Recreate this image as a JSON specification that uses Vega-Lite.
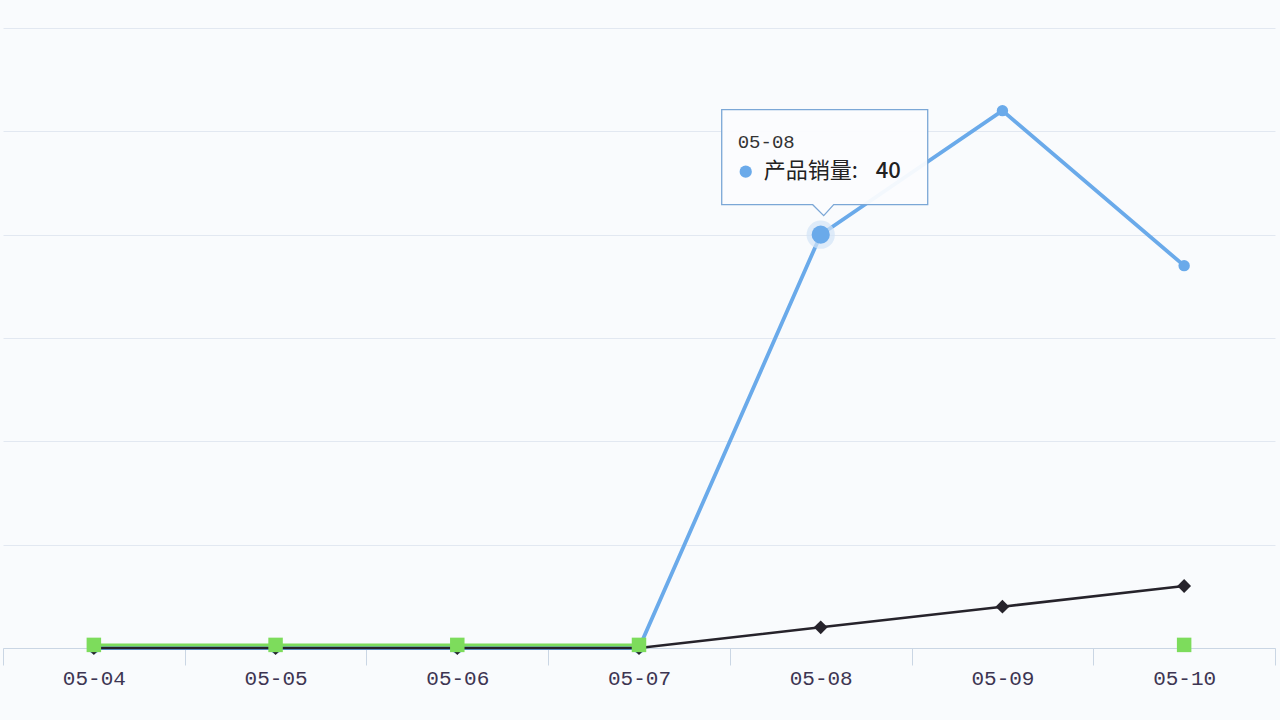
{
  "$schema": "https://vega.github.io/schema/vega-lite/v6.json",
  "width": 1272,
  "height": 620,
  "autosize": {"type": "none"},
  "padding": {"left": 3, "top": 28, "right": 5, "bottom": 72},
  "background": "#f9fbfd",
  "config": {"view": {"stroke": null}, "font": "DejaVu Sans"},
  "datasets": {
    "sales": [
      {"date": "05-04", "series": "产品销量", "value": 0},
      {"date": "05-05", "series": "产品销量", "value": 0},
      {"date": "05-06", "series": "产品销量", "value": 0},
      {"date": "05-07", "series": "产品销量", "value": 0},
      {"date": "05-08", "series": "产品销量", "value": 40},
      {"date": "05-09", "series": "产品销量", "value": 52},
      {"date": "05-10", "series": "产品销量", "value": 37},
      {"date": "05-04", "series": "系列二", "value": 0},
      {"date": "05-05", "series": "系列二", "value": 0},
      {"date": "05-06", "series": "系列二", "value": 0},
      {"date": "05-07", "series": "系列二", "value": 0},
      {"date": "05-08", "series": "系列二", "value": 2},
      {"date": "05-09", "series": "系列二", "value": 4},
      {"date": "05-10", "series": "系列二", "value": 6},
      {"date": "05-04", "series": "系列三", "value": 0.3},
      {"date": "05-05", "series": "系列三", "value": 0.3},
      {"date": "05-06", "series": "系列三", "value": 0.3},
      {"date": "05-07", "series": "系列三", "value": 0.3},
      {"date": "05-08", "series": "系列三", "value": null},
      {"date": "05-09", "series": "系列三", "value": null},
      {"date": "05-10", "series": "系列三", "value": 0.3}
    ],
    "tip": [{"date": "05-08", "value": 40, "title": "05-08", "label": "产品销量:", "num": "40"}]
  },
  "data": {"name": "sales"},
  "encoding": {
    "x": {
      "field": "date",
      "type": "ordinal",
      "bandPosition": 0.5,
      "scale": {"type": "band", "paddingInner": 0, "paddingOuter": 0},
      "axis": {
        "title": null,
        "labelAngle": 0,
        "domainColor": "#cad6e4",
        "tickColor": "#cad6e4",
        "tickSize": 17,
        "tickBand": "extent",
        "labelFont": "Liberation Mono",
        "labelFontSize": 21,
        "labelColor": "#3d3552",
        "labelPadding": 2,
        "grid": false
      }
    },
    "y": {
      "field": "value",
      "type": "quantitative",
      "scale": {"domain": [0, 60], "nice": false},
      "axis": {
        "title": null,
        "labels": false,
        "ticks": false,
        "domain": false,
        "grid": true,
        "gridColor": "#e2e8f1",
        "values": [0, 10, 20, 30, 40, 50, 60]
      }
    },
    "color": {
      "field": "series",
      "type": "nominal",
      "scale": {"domain": ["产品销量", "系列二", "系列三"], "range": ["#6aaaea", "#26232b", "#7ddc5c"]},
      "legend": null
    }
  },
  "layer": [
    {"transform": [{"filter": "datum.series === '产品销量'"}], "mark": {"type": "line", "strokeWidth": 3.8}},
    {"transform": [{"filter": "datum.series === '产品销量'"}], "mark": {"type": "point", "shape": "circle", "filled": true, "size": 130, "opacity": 1}},
    {"transform": [{"filter": "datum.series === '系列二'"}], "mark": {"type": "line", "strokeWidth": 2.6}},
    {"transform": [{"filter": "datum.series === '系列二'"}], "mark": {"type": "point", "shape": "diamond", "filled": true, "size": 190, "opacity": 1, "color": "#3a3540"}},
    {"transform": [{"filter": "datum.series === '系列三'"}], "mark": {"type": "line", "strokeWidth": 3, "invalid": "break-paths-show-domains"}},
    {"transform": [{"filter": "datum.series === '系列三' && datum.value != null"}], "mark": {"type": "point", "shape": "square", "filled": true, "size": 210, "opacity": 1}},
    {"data": {"name": "tip"}, "mark": {"type": "point", "shape": "circle", "filled": true, "size": 800, "opacity": 0.7}, "encoding": {"color": {"value": "#d3e4f7"}}},
    {"data": {"name": "tip"}, "mark": {"type": "point", "shape": "circle", "filled": true, "size": 330, "opacity": 1}, "encoding": {"color": {"value": "#6aaaea"}}},
    {"data": {"name": "tip"}, "mark": {"type": "point", "shape": "M-0.99,-1.25 L1.07,-1.25 L1.07,-0.30 L0.13,-0.30 L0.03,-0.19 L-0.08,-0.30 L-0.99,-0.30 Z", "size": 40000, "filled": true, "fillOpacity": 0.95, "stroke": "#7ba7d6", "strokeWidth": 1.3, "opacity": 1}, "encoding": {"color": {"value": "#fbfcfe"}}},
    {"data": {"name": "tip"}, "mark": {"type": "text", "align": "left", "baseline": "middle", "dx": -83, "dy": -93, "fontSize": 19, "font": "Liberation Mono"}, "encoding": {"text": {"field": "title"}, "color": {"value": "#333333"}}},
    {"data": {"name": "tip"}, "mark": {"type": "point", "shape": "circle", "filled": true, "size": 150, "opacity": 1, "xOffset": -75, "yOffset": -63}, "encoding": {"color": {"value": "#6aaaea"}}},
    {"data": {"name": "tip"}, "mark": {"type": "text", "align": "left", "baseline": "middle", "dx": -57, "dy": -64, "fontSize": 22, "font": "Noto Sans CJK SC"}, "encoding": {"text": {"field": "label"}, "color": {"value": "#222222"}}},
    {"data": {"name": "tip"}, "mark": {"type": "text", "align": "left", "baseline": "middle", "dx": 55, "dy": -64, "fontSize": 22, "fontWeight": 500, "font": "Noto Sans CJK SC"}, "encoding": {"text": {"field": "num"}, "color": {"value": "#222222"}}}
  ]
}
